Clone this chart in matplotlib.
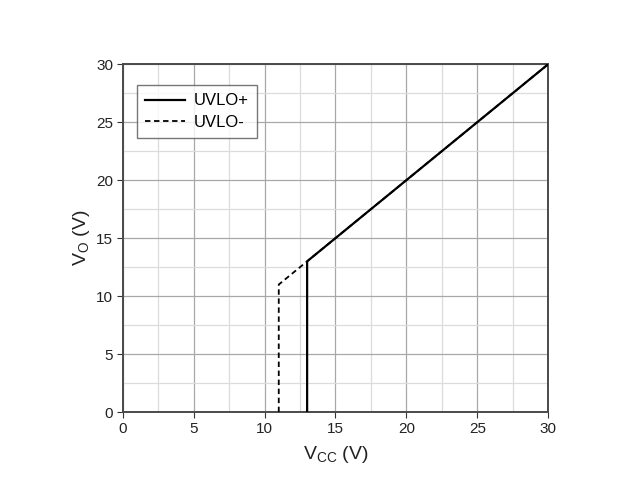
import matplotlib
matplotlib.use('Agg')
import matplotlib.pyplot as plt
import numpy as np

plt.rcParams['font.family'] = ['Liberation Sans', 'DejaVu Sans']

# UVLO+ : output follows input once VCC rises above 13 V
vcc_plus = [13, 13, 30]
vo_plus = [0, 13, 30]
# UVLO- : output drops out when VCC falls below 11 V
vcc_minus = [11, 11, 30]
vo_minus = [0, 11, 30]

major_ticks = [0, 5, 10, 15, 20, 25, 30]
minor_ticks = [2.5, 7.5, 12.5, 17.5, 22.5, 27.5]

fig = plt.figure(figsize=(6.36, 4.86), dpi=100)
ax = fig.add_axes([0.193, 0.152, 0.669, 0.716])

ax.plot(vcc_minus, vo_minus, color='black', linestyle=(0, (3, 2)), linewidth=1.3, label='UVLO-', zorder=3)
ax.plot(vcc_plus, vo_plus, color='black', linewidth=1.6, label='UVLO+', zorder=4)

ax.set_xlim(0, 30)
ax.set_ylim(0, 30)
ax.set_xticks(major_ticks)
ax.set_yticks(major_ticks)
ax.set_xticks(minor_ticks, minor=True)
ax.set_yticks(minor_ticks, minor=True)
ax.grid(True, which='major', color='#a8a8a8', linewidth=0.9)
ax.grid(True, which='minor', color='#dcdcdc', linewidth=0.9)
ax.tick_params(which='major', direction='out', length=4, width=0.8, pad=3, labelsize=11,
               colors='#333333', labelcolor='#222222')
ax.tick_params(which='minor', length=0)
for s in ax.spines.values():
    s.set_color('#4a4a4a')
    s.set_linewidth(1.4)

ax.set_xlabel(r'V$_{\mathregular{CC}}$ (V)', fontsize=14, color='#222222', labelpad=6)
ax.set_ylabel(r'V$_{\mathregular{O}}$ (V)', fontsize=14, color='#222222', labelpad=3)

handles, labels = ax.get_legend_handles_labels()
leg = ax.legend(handles[::-1], labels[::-1], loc='upper left', bbox_to_anchor=(0.033, 0.94),
                fontsize=12, frameon=True, fancybox=False, edgecolor='#555555',
                handlelength=2.4, handletextpad=0.5, borderpad=0.5, labelspacing=0.4,
                borderaxespad=0)
leg.get_frame().set_linewidth(1.0)

fig.savefig('out.png', dpi=100, facecolor='white')
